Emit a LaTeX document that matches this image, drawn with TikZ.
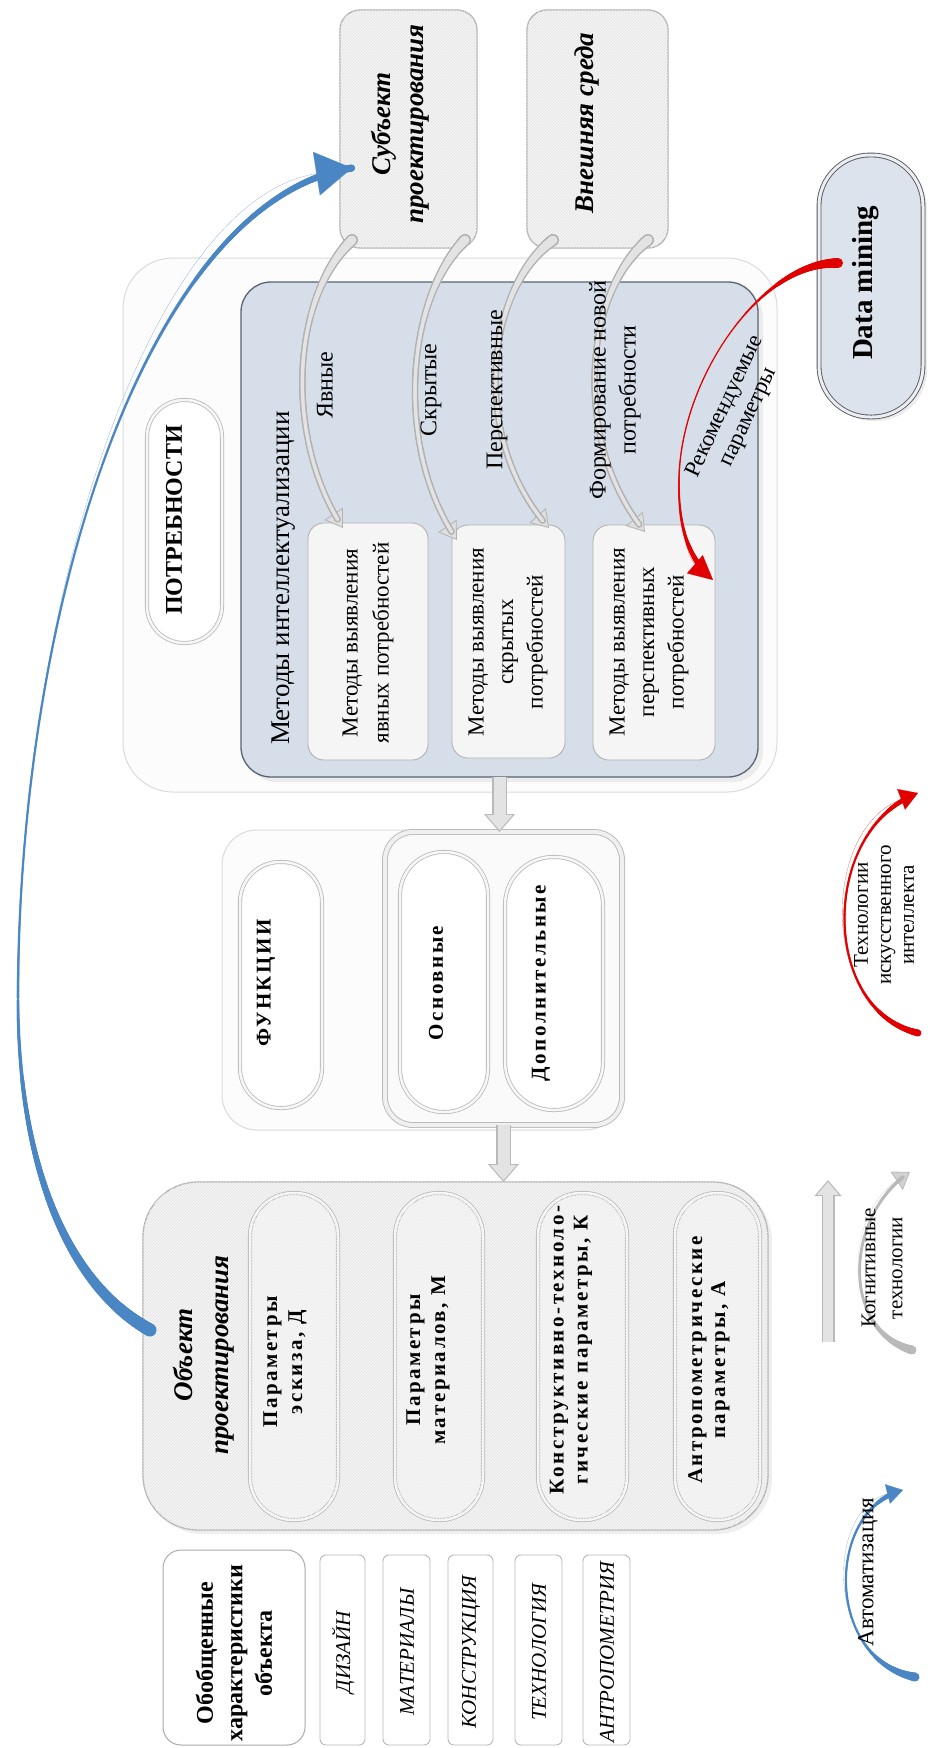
\documentclass[tikz,border=0pt]{standalone}
\usepackage{fontspec}
\setmainfont{Liberation Serif}
\newfontfamily\lsp[LetterSpace=12]{Liberation Serif}
\usetikzlibrary{arrows.meta,decorations.markings,patterns,shadows,calc}
\newcommand\myfs[2]{\fontsize{#1}{#2}\selectfont}
\definecolor{blueA}{RGB}{74,134,196}
\definecolor{methfill}{RGB}{213,222,233}
\definecolor{methdraw}{RGB}{88,100,114}
\definecolor{redA}{RGB}{225,0,0}
\definecolor{dmfill}{RGB}{221,227,236}
\tikzset{
  sz/.style 2 args={minimum width=#1pt, minimum height=#2pt},
  base/.style={inner sep=0pt, outer sep=0pt},
  softbox/.style={base, draw=gray!28, line width=1pt, fill=gray!2},
  methbox/.style={base, draw=methdraw, line width=1.3pt, fill=methfill, rounded corners=30pt,
     drop shadow={shadow xshift=5pt, shadow yshift=-5pt, opacity=0.12}},
  mbox/.style={base, draw=gray!60, line width=0.9pt, fill=gray!8, rounded corners=16pt},
  hatchbox/.style={base, draw=gray!60, line width=1.3pt, fill=gray!9,
     postaction={pattern=north east lines, pattern color=gray!22}},
  pill/.style={base, draw=gray!55, double=gray!6, double distance=2.5pt, line width=0.8pt, fill=white},
  hpill/.style={pill, fill=gray!7, postaction={pattern=north east lines, pattern color=gray!16}},
  dmbox/.style={base, draw=gray!70!black, double=dmfill!60!white, double distance=3pt, line width=0.9pt,
     fill=dmfill, drop shadow={shadow xshift=4pt, shadow yshift=-4pt, opacity=0.15}},
  grpbox/.style={base, draw=gray!55, double=gray!12, double distance=4pt, line width=0.9pt,
     fill=gray!4, rounded corners=28pt},
  gbox/.style={base, draw=gray!65, line width=1pt, fill=white},
  tbox/.style={base, draw=gray!55, line width=0.9pt, fill=white, rounded corners=6pt},
  txt/.style={rotate=90, align=center, inner sep=0pt},
  taper/.style n args={5}{postaction={decorate, decoration={markings,
      mark=between positions 0 and 1 step 0.8pt with {%
        \pgfmathsetmacro\dpos{\pgfkeysvalueof{/pgf/decoration/mark info/distance from start}}%
        \pgfmathsetmacro\tleft{\pgfdecoratedpathlength-\dpos-#5}%
        \ifdim\tleft pt>0pt
          \pgfmathsetmacro\tpos{\dpos/\pgfdecoratedpathlength}%
          \pgfmathsetmacro\tr{0.5*(#3+(#2-#3)*pow(max(0,1-\tpos/0.35),2)+(#4-#3)*pow(max(0,(\tpos-0.65)/0.35),2))}%
          \fill[#1] (0,0) circle[radius=\tr pt];
        \fi
      }}}},
  blk/.style={line width=15pt, draw=gray!55, -{Triangle[width=30pt,length=18pt]},
     postaction={draw=gray!22, line width=12pt, -{Triangle[width=25pt,length=15pt]}, shorten >=1.8pt}},
  blks/.style={line width=13pt, draw=gray!55, -{Triangle[width=26pt,length=16pt]},
     postaction={draw=gray!22, line width=10pt, -{Triangle[width=21pt,length=13pt]}, shorten >=1.8pt}},
  garr/.style={draw=gray!60, line width=0.1pt,
     -{Triangle[width=22pt,length=17pt,fill=gray!25,line width=0.8pt]},
     taper={gray!60}{12}{6.5}{6.5}{12}, taper={gray!22}{9}{3.8}{3.8}{12}},
}
\begin{document}
\begin{tikzpicture}[x=1pt,y=-1pt]
\useasboundingbox (0,0) rectangle (927,1748);
\fill[white] (0,0) rectangle (927,1748);

% ---- needs block
\node[softbox, rounded corners=50pt, sz={654}{534}] (needs) at (450,525) {};
\node[methbox, sz={517}{495}] (meth) at (499.5,529.5) {};
\node[pill, rounded corners=37pt, sz={75}{243}] (needP) at (184.5,521.5) {};
\node[mbox, sz={120}{237}] (m1) at (368,641.5) {};
\node[mbox, sz={113}{233}] (m2) at (508.5,641.5) {};
\node[mbox, sz={122}{235}] (m3) at (654,642.5) {};

% ---- top boxes
\node[hatchbox, rounded corners=20pt, sz={137}{238}] (subj) at (408.5,129) {};
\node[hatchbox, rounded corners=20pt, sz={141}{238}] (env) at (597.5,129) {};
\node[dmbox, rounded corners=51pt, sz={104}{262}] (dm) at (871,286) {};

% ---- functions
\node[softbox, rounded corners=35pt, sz={398}{300}] (func) at (421,980) {};
\node[grpbox, sz={237}{293}] (fgrp) at (503.5,978.5) {};
\node[pill, rounded corners=40pt, sz={82}{246}] (funP) at (281,985) {};
\node[pill, rounded corners=43pt, sz={88}{260}] (osnP) at (444,982) {};
\node[pill, rounded corners=48pt, sz={98}{253}] (dopP) at (554,983.5) {};

% ---- object
\node[hatchbox, rounded corners=55pt, sz={625}{348},
      drop shadow={shadow xshift=4pt, shadow yshift=-4pt, opacity=0.12}] (obj) at (455.5,1356) {};
\node[hpill, rounded corners=43pt, sz={88}{327}] (p1) at (294,1356.5) {};
\node[hpill, rounded corners=43pt, sz={88}{327}] (p2) at (439,1356.5) {};
\node[hpill, rounded corners=43pt, sz={89}{327}] (p3) at (582.5,1356.5) {};
\node[hpill, rounded corners=42pt, sz={85}{327}] (p4) at (717.5,1356.5) {};

% ---- left column
\node[gbox, rounded corners=18pt, sz={142}{195}] (gen) at (234,1647.5) {};
\node[tbox, sz={45}{190}] (dz) at (342.5,1650) {};
\node[tbox, sz={47}{190}] (mt) at (406.5,1650) {};
\node[tbox, sz={45}{190}] (kn) at (470.5,1650) {};
\node[tbox, sz={47}{190}] (th) at (538.5,1650) {};
\node[tbox, sz={47}{190}] (an) at (606.5,1650) {};

% ---- block arrows
\draw[blk] (meth.south) -- (meth.south |- fgrp.north);
\draw[blk] (fgrp.south) -- (fgrp.south |- obj.north);

% ---- gray curved arrows
\coordinate (a1s) at ($(subj.south west)+(12,-8)$);
\coordinate (a1e) at ($(m1.north west)+(35,5)$);
\coordinate (a2s) at ($(subj.south east)+(-12,-8)$);
\coordinate (a2e) at ($(m2.north west)+(5,15)$);
\coordinate (a3s) at ($(env.south west)+(26,-8)$);
\coordinate (a3e) at ($(m2.north east)+(-16,3)$);
\coordinate (a4s) at ($(env.south east)+(-20,-8)$);
\coordinate (a4e) at ($(m3.north west)+(52,7)$);
\draw[garr] (a1s) .. controls (290,300) and (285,440) .. (a1e);
\draw[garr] (a2s) .. controls (405,300) and (395,450) .. (a2e);
\draw[garr] (a3s) .. controls (485,290) and (470,440) .. (a3e);
\draw[garr] (a4s) .. controls (585,290) and (570,440) .. (a4e);

% ---- red arrow
\coordinate (rs) at ($(dm.west)+(19,-23)$);
\coordinate (re) at ($(m3.north east)+(-2,55)$);
\draw[redA, line width=0.1pt, -{Triangle[width=24pt,length=24pt]}, taper={redA}{10}{1.6}{7}{16}]
  (rs) .. controls (760,262) and (680,380) .. (679,480) .. controls (678,530) and (690,560) .. (re);

% ---- blue arrow
\coordinate (bs) at ($(obj.west)+(7,-26)$);
\coordinate (be) at ($(subj.west)+(12,39)$);
\draw[blueA, line width=0.1pt, -{Triangle[width=44pt,length=36pt]}, taper={blueA}{13}{2.5}{8}{28}]
  (bs) .. controls (60,1280) and (18,1150) .. (18,1000) .. controls (18,600) and (150,200) .. (be);

% ---- legend
\coordinate (lgA) at (828,1342);
\coordinate (lgB) at (828,1180);
\draw[blks] (lgA) -- (lgB);
\coordinate (cg1) at (912,1350);
\coordinate (cg2) at (910,1172);
\draw[draw=gray!55, line width=0.1pt, -{Triangle[width=22pt,length=16pt,fill=gray!35,line width=0.8pt]},
      taper={gray!55}{9}{3}{4.5}{10}] (cg1) .. controls (840,1330) and (845,1215) .. (cg2);
\coordinate (rl1) at (918,1033);
\coordinate (rl2) at (918,793);
\draw[redA, line width=0.1pt, -{Triangle[width=22pt,length=18pt]},
      taper={redA}{7}{2.5}{6}{12}] (rl1) .. controls (820,1010) and (820,830) .. (rl2);
\coordinate (bl1) at (915,1677);
\coordinate (bl2) at (903,1490);
\draw[blueA, line width=0.1pt, -{Triangle[width=20pt,length=16pt]},
      taper={blueA}{9}{2.5}{6}{10}] (bl1) .. controls (825,1660) and (825,1510) .. (bl2);

% ---- texts
\node[txt, font=\myfs{27}{33}\bfseries\itshape] (subjT) at (400,124) {Субъект\\проектирования};
\node[txt, font=\myfs{27}{33}\bfseries\itshape] (envT) at (587,123) {Внешняя среда};
\node[txt, font=\myfs{29}{34}\bfseries] (dmT) at (866,283) {Data mining};
\node[txt, font=\myfs{24}{28}\bfseries] (needT) at (174,520) {ПОТРЕБНОСТИ};
\node[txt, font=\myfs{27}{32}] (methT) at (284,578) {Методы интеллектуализации};
\node[txt, font=\myfs{23}{31}] (m1T) at (368,643) {Методы выявления\\явных потребностей};
\node[txt, font=\myfs{23}{29.5}] (m2T) at (508,642) {Методы выявления\\скрытых\\потребностей};
\node[txt, font=\myfs{23}{29.5}] (m3T) at (649,642) {Методы выявления\\перспективных\\потребностей};
\node[txt, font=\myfs{24}{30}] (yavT) at (325,385) {Явные};
\node[txt, font=\myfs{24}{30}] (skrT) at (431,390) {Скрытые};
\node[txt, font=\myfs{24}{30}] (perT) at (497,390) {Перспективные};
\node[txt, font=\myfs{24}{30}] (formT) at (615,390) {Формирование новой\\потребности};
\node[rotate=65, align=center, inner sep=0pt, font=\myfs{23}{26}] (recT) at (737,412) {Рекомендуемые\\параметры};
\node[txt, font=\myfs{21}{25}\lsp\bfseries] (funcT) at (266,983) {ФУНКЦИИ};
\node[txt, font=\myfs{21}{25}\lsp\bfseries] (osnT) at (436,983) {Основные};
\node[txt, font=\myfs{21}{25}\lsp\bfseries] (dopT) at (541,983) {Дополнительные};
\node[txt, font=\myfs{27}{36}\bfseries\itshape] (objT) at (204,1355) {Объект\\проектирования};
\node[txt, font=\myfs{21}{25}\lsp\bfseries] (p1T) at (285,1362) {Параметры\\эскиза, Д};
\node[txt, font=\myfs{21}{25}\lsp\bfseries] (p2T) at (428,1360) {Параметры\\материалов, М};
\node[txt, font=\myfs{21}{24}\lsp\bfseries] (p3T) at (571,1350) {Конструктивно-техноло-\\гические параметры, К};
\node[txt, font=\myfs{21}{23}\lsp\bfseries] (p4T) at (709,1360) {Антропометрические\\параметры, А};
\node[txt, font=\myfs{24}{29.5}\bfseries] (genT) at (234,1653) {Обобщенные\\характеристики\\объекта};
\node[txt, font=\myfs{21}{25}\itshape] (dzT) at (343,1652) {ДИЗАЙН};
\node[txt, font=\myfs{21}{25}\itshape] (mtT) at (407,1652) {МАТЕРИАЛЫ};
\node[txt, font=\myfs{21}{25}\itshape] (knT) at (471,1652) {КОНСТРУКЦИЯ};
\node[txt, font=\myfs{21}{25}\itshape] (thT) at (539,1652) {ТЕХНОЛОГИЯ};
\node[txt, font=\myfs{21}{25}\itshape] (anT) at (607,1652) {АНТРОПОМЕТРИЯ};
\node[txt, font=\myfs{21}{23}] (aiT) at (884,915) {Технологии\\искусственного\\интеллекта};
\node[txt, font=\myfs{21}{27}] (cogT) at (882,1268) {Когнитивные\\технологии};
\node[txt, font=\myfs{23}{27}] (autT) at (868,1572) {Автоматизация};
\end{tikzpicture}
\end{document}
